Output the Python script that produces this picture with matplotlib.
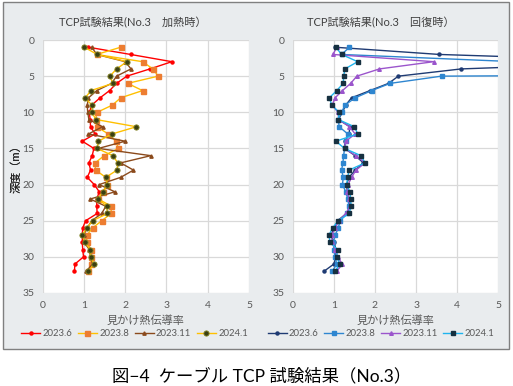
import matplotlib
matplotlib.use("Agg")
import matplotlib.pyplot as plt
from matplotlib.patches import Rectangle
import numpy as np

plt.rcParams['font.family'] = ['Lato', 'Noto Sans CJK JP', 'DejaVu Sans']

depth = list(range(1, 33))
series_labels = ["2023.6", "2023.8", "2023.11", "2024.1"]

# Left panel (heating)
heat_2023_6 = [1.11, 2.13, 3.13, 2.60, 2.04, 1.79, 1.62, 1.39, 1.19, 1.13, 1.15, 1.16, 1.27, 0.96, 1.24, 1.20,
               1.12, 1.16, 1.08, 1.25, 1.37, 1.31, 1.31, 1.32, 1.04, 0.97, 0.96, 0.96, 0.97, 0.99, 0.78, 0.77]
heat_2023_8 = [1.89, 1.31, 2.42, 2.67, 2.80, 2.06, 2.42, 1.89, 1.69, 1.32, 1.28, 1.31, 1.59, 1.78, 1.83, 1.49,
               1.27, 1.28, 1.53, 1.57, 1.47, 1.35, 1.66, 1.66, 1.43, 1.21, 1.07, 1.07, 1.17, 1.17, 1.17, 1.11]
heat_2023_11 = [1.19, 1.31, 2.00, 2.14, 1.79, 1.67, 1.31, 1.11, 1.08, 1.09, 1.12, 1.45, 1.11, 2.00, 1.35, 2.62,
                1.89, 2.20, 1.89, 1.37, 1.75, 1.15, 1.53, 1.43, 1.19, 1.08, 0.99, 1.01, 1.13, 1.16, 1.21, 1.05]
heat_2024_1 = [1.01, 1.32, 2.04, 1.79, 1.63, 1.70, 1.17, 1.03, 1.19, 1.19, 1.29, 2.27, 1.68, 1.35, 1.32, 1.70,
               1.82, 1.80, 1.53, 1.57, 1.45, 1.35, 1.55, 1.57, 1.21, 1.07, 0.96, 1.03, 1.15, 1.16, 1.24, 1.11]

# Right panel (recovery)
rec_2023_6 = [1.03, 3.57, 9.00, 4.10, 2.57, 2.33, 1.88, 1.43, 1.29, 1.21, 1.11, 1.39, 1.37, 1.27, 1.26, 1.52,
              1.72, 1.52, 1.37, 1.31, 1.33, 1.37, 1.40, 1.31, 1.09, 1.01, 0.93, 1.01, 1.05, 1.05, 1.00, 0.76]
rec_2023_8 = [1.38, 1.19, 5.40, 40.0, 3.62, 2.37, 1.92, 1.52, 1.27, 1.19, 1.11, 1.13, 1.34, 1.30, 1.26, 1.24,
              1.22, 1.19, 1.23, 1.21, 1.29, 1.34, 1.37, 1.33, 1.15, 1.11, 1.03, 0.99, 1.00, 1.03, 1.07, 0.96]
rec_2023_11 = [1.07, 0.98, 3.43, 2.11, 1.56, 1.41, 1.21, 1.03, 0.96, 1.10, 1.12, 1.38, 1.52, 1.29, 1.26, 1.54,
               1.76, 1.54, 1.43, 1.35, 1.33, 1.38, 1.40, 1.29, 1.13, 1.03, 0.95, 0.96, 1.03, 1.09, 1.21, 1.07]
rec_2024_1 = [1.05, 1.19, 1.58, 1.27, 1.24, 1.23, 1.07, 0.89, 0.95, 1.13, 1.11, 1.50, 1.58, 1.05, 1.26, 1.66,
              1.76, 1.37, 1.34, 1.31, 1.39, 1.41, 1.42, 1.37, 1.11, 0.97, 0.88, 0.91, 1.09, 1.07, 1.15, 1.03]

W, H = 513, 386
fig = plt.figure(figsize=(W / 100, H / 100), dpi=100)
fig.patch.set_facecolor('white')

# panel background box
fig.patches.append(Rectangle((3 / W, 37 / H), 506 / W, 347 / H, transform=fig.transFigure,
                             facecolor='#E9ECEE', edgecolor='#808080', linewidth=1.0, zorder=-10))

def make_ax(x0px, x1px):
    width = x1px - x0px
    ax = fig.add_axes([x0px / W, (H - 293) / H, width / W, (293 - 40) / H])
    ax.set_facecolor('white')
    ax.set_xlim(0, 5)
    ax.set_ylim(35, 0)
    ax.set_xticks(range(0, 6))
    ax.set_yticks(range(0, 36, 5))
    ax.grid(True, color='#D9D9D9', linewidth=0.9)
    ax.set_axisbelow(True)
    for s in ax.spines.values():
        s.set_visible(False)
    ax.tick_params(length=0, labelsize=7.5, labelcolor='#595959', pad=6)
    ax.set_xlabel('見かけ熱伝導率', fontsize=8, color='#595959', labelpad=3)
    ax.set_ylabel('深度（m）', fontsize=8, color='#262626')
    ax.yaxis.set_label_coords(-(x0px - 21.5) / width, 0.5)
    return ax

axL = make_ax(42.7, 249.0)
axR = make_ax(292.7, 498.3)

lw = 1.0
# Left series
axL.plot(heat_2023_6, depth, color='#FF0000', lw=lw, marker='o', ms=2.2, label=series_labels[0])
axL.plot(heat_2023_8, depth, color='#FFC000', lw=lw, marker='s', ms=3.6, mfc='#ED7D31', mec='#ED7D31', label=series_labels[1])
axL.plot(heat_2023_11, depth, color='#8B4A1C', lw=lw, marker='^', ms=2.4, label=series_labels[2])
axL.plot(heat_2024_1, depth, color='#FFC000', lw=lw, marker='o', ms=3.8, mfc='#3B3F12', mec='#8A8A2A', mew=0.6, label=series_labels[3])

# Right series
axR.plot(rec_2023_6, depth, color='#1F3B73', lw=lw, marker='o', ms=2.2, label=series_labels[0])
axR.plot(rec_2023_8, depth, color='#2E86D0', lw=lw, marker='s', ms=3.4, label=series_labels[1])
axR.plot(rec_2023_11, depth, color='#9B55CC', lw=lw, marker='^', ms=2.6, label=series_labels[2])
axR.plot(rec_2024_1, depth, color='#1FB4EE', lw=lw, marker='s', ms=3.4, mfc='#163040', mec='#163040', label=series_labels[3])

for ax, cx, lx, x0, wd, title in [(axL, 133, 134.5, 42.7, 206.3, 'TCP試験結果(No.3　加熱時）'),
                                  (axR, 381, 381.0, 292.7, 205.6, 'TCP試験結果(No.3　回復時）')]:
    fig.text(cx / W, 1 - 23 / H, title, ha='center', va='center', fontsize=8, color='#404040')
    ax.legend(loc='center', bbox_to_anchor=((lx - x0) / wd, -(334 - 293) / 253), ncol=4, frameon=False,
              fontsize=6.8, handlelength=2.0, handletextpad=0.25, columnspacing=0.6, labelcolor='#595959',
              borderaxespad=0, borderpad=0)

fig.text(262 / W, 1 - 376 / H, '図−4  ケーブル TCP 試験結果（No.3）', ha='center', va='center',
         fontsize=12.5, color='black')

fig.savefig('out.png', dpi=100)
